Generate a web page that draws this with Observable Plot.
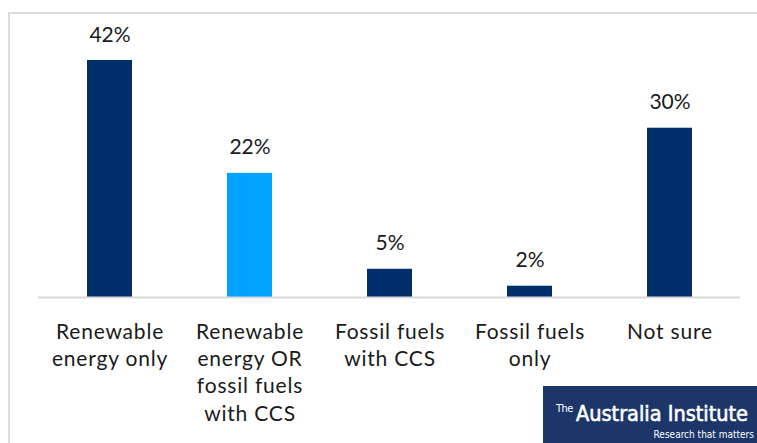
<!DOCTYPE html>
<html>
<head>
<meta charset="utf-8">
<script src="https://cdn.jsdelivr.net/npm/d3@7"></script>
<script src="https://cdn.jsdelivr.net/npm/@observablehq/plot@0.6"></script>
<style>
  html, body { margin: 0; padding: 0; background: #fff; }
  #wrap { position: relative; width: 757px; height: 443px; overflow: hidden; }
  #frame { position: absolute; left: 8px; top: 12px; right: -4px; bottom: -4px; border-left: 2px solid #dcdcdc; border-top: 2px solid #dcdcdc; }
  #chart { position: absolute; left: 0; top: 0; }
  #logo { position: absolute; left: 543px; top: 386px; }
  .cat-label text { letter-spacing: 0.8px; }
</style>
</head>
<body>
<div id="wrap">
  <div id="frame"></div>
  <div id="chart"></div>
  <svg id="logo" width="214" height="57">
    <rect x="0" y="0" width="214" height="57" fill="#1c3669"></rect>
    <g fill="#fff" font-family="'DejaVu Sans Condensed', 'DejaVu Sans', sans-serif">
      <text x="13" y="26" font-size="11" letter-spacing="-0.5">The</text>
      <text x="33" y="35" font-size="21.5" stroke="#fff" stroke-width="0.6">Australia Institute</text>
      <text x="211" y="52" font-size="10" text-anchor="end">Research that matters</text>
    </g>
  </svg>
</div>
<script>
// Survey answers and their shares (%)
const categories = [
  "Renewable\nenergy only",
  "Renewable\nenergy OR\nfossil fuels\nwith CCS",
  "Fossil fuels\nwith CCS",
  "Fossil fuels\nonly",
  "Not sure"
];
const shares = [42, 22, 5, 2, 30];
const barColors = ["#002e6b", "#00a3ff", "#002e6b", "#002e6b", "#002e6b"];

const rows = categories.map((c, i) => ({category: c, share: shares[i], color: barColors[i]}));

const chart = Plot.plot({
  width: 757,
  height: 443,
  marginLeft: 38,
  marginRight: 17,
  marginTop: 60,
  marginBottom: 146,
  style: {fontFamily: "Lato, 'Open Sans', sans-serif", background: "transparent"},
  x: {domain: categories, paddingInner: 0.68, paddingOuter: 0.34, axis: null},
  y: {domain: [0, 42], axis: null},
  marks: [
    Plot.barY(rows, {x: "category", y: "share", fill: "color"}),
    Plot.ruleY([0], {stroke: "#d9d9d9", strokeWidth: 2}),
    Plot.text(rows, {x: "category", y: "share", text: d => d.share + "%", dy: -19, fontSize: 21, fill: "#1a1a1a", lineAnchor: "bottom"}),
    Plot.text(rows, {x: "category", frameAnchor: "bottom", text: "category", lineAnchor: "top", dy: 22, fontSize: 21, lineHeight: 1.3, fill: "#1a1a1a", className: "cat-label"})
  ]
});
document.getElementById("chart").appendChild(chart);
</script>
</body>
</html>
